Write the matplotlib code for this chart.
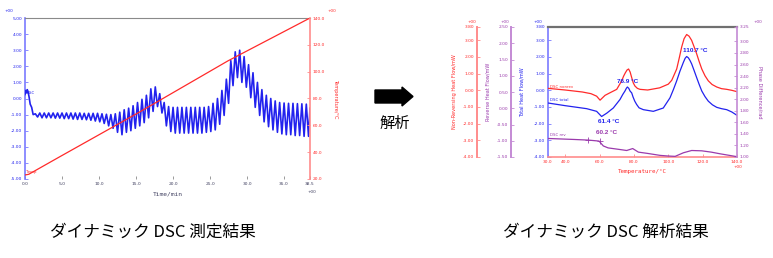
import matplotlib
matplotlib.use('Agg')
import matplotlib.pyplot as plt
import numpy as np
from matplotlib.patches import Polygon

# ---- left chart: modulated DSC raw signal ----
hf_start_t = [0.0, 0.1, 0.2, 0.3, 0.4, 0.55, 0.7, 0.9, 1.1]
hf_start = [0.25, 0.5, 0.35, 0.55, 0.45, 0.1, -0.35, -0.55, -1.0]
osc_start = 1.4      # min, first peak of the modulation
osc_period = 0.6     # min
hf_peak = [-0.95, -0.90, -0.90, -0.90, -0.90, -0.90, -0.90, -0.90, -0.90, -0.90,
           -0.90, -0.92, -0.92, -0.92, -0.92, -0.95, -0.98, -1.00, -0.95, -0.85,
           -0.70, -0.60, -0.45, -0.25, -0.05, 0.20, 0.60, 0.72, 0.30, -0.25,
           -0.50, -0.55, -0.55, -0.55, -0.55, -0.55, -0.55, -0.55, -0.55, -0.50,
           -0.30, 0.00, 0.50, 1.20, 2.35, 2.90, 3.00, 2.60, 2.10, 1.60,
           1.00, 0.55, 0.20, 0.00, -0.15, -0.25, -0.28, -0.30, -0.30, -0.32,
           -0.33, -0.35]
hf_trough = [-1.15, -1.20, -1.20, -1.20, -1.22, -1.22, -1.25, -1.25, -1.28, -1.30,
             -1.30, -1.32, -1.35, -1.40, -1.45, -1.55, -1.70, -1.85, -2.10, -2.25,
             -2.10, -2.00, -1.85, -1.70, -1.50, -1.20, -0.80, -0.50, -0.90, -1.70,
             -2.05, -2.15, -2.15, -2.15, -2.15, -2.15, -2.15, -2.15, -2.10, -2.05,
             -1.95, -1.60, -1.05, -0.30, 0.80, 1.30, 1.00, 0.70, 0.05, -0.55,
             -1.05, -1.45, -1.75, -1.95, -2.10, -2.20, -2.25, -2.25, -2.30, -2.30,
             -2.35, -2.35]
hf_end_t = 38.5
hf_end = -0.6
temp_t = [0, 0.5, 4.7, 15.5, 27.4, 38.5]
temp_v = [23, 23.5, 36.6, 70, 108, 140]

# ---- right chart: analysed curves ----
nonrev_x = [30, 40, 50, 55, 58.3, 60.3, 63.2, 66, 70, 72.9, 74, 75, 76, 76.9, 77.8, 78.7, 79.6, 80.6, 82,
            83.5, 88, 95, 100, 102, 103.5, 104.9, 106.3, 107.8, 109.2, 110.7, 112.1, 113.6, 115, 116.5,
            118, 119.5, 121.4, 123.3, 125.5, 128.2, 131, 134, 137, 140]
nonrev_y = [0.12, 0.02, -0.1, -0.2, -0.35, -0.59, -0.3, -0.15, 0.06, 0.57, 0.85, 1.05, 1.22, 1.28, 1.1, 0.77, 0.45, 0.26, 0.12,
            0.06, 0.02, 0.15, 0.37, 0.6, 0.95, 1.28, 1.9, 2.6, 3.1, 3.35, 3.25, 3.0, 2.62, 2.2,
            1.72, 1.28, 0.87, 0.57, 0.35, 0.2, 0.1, 0.06, 0.0, -0.08]
total_x = [30, 40, 52.5, 58.3, 61.2, 64.2, 68, 71.9, 73.5, 74.8, 75.6, 76.2, 77, 77.8, 78.7, 79.5, 80.5,
           81.6, 83, 85.5, 91.3, 97.1, 101, 103, 104.9, 106.8, 108.8, 109.8, 110.7, 111.7, 112.6, 113.6,
           115, 116.5, 118, 119.5, 121.4, 123.3, 125.7, 128.2, 131, 134, 137, 140]
total_y = [-0.76, -0.92, -1.1, -1.26, -1.57, -1.37, -1.06, -0.55, -0.25, -0.04, 0.12, 0.2, 0.12, -0.05, -0.15, -0.4, -0.65,
           -0.85, -1.05, -1.16, -1.26, -1.06, -0.45, 0.05, 0.57, 1.15, 1.68, 1.92, 2.03, 1.95, 1.8, 1.59,
           1.2, 0.77, 0.35, -0.04, -0.38, -0.65, -0.87, -1.02, -1.1, -1.16, -1.3, -1.5]
rev_x = [30, 45, 53.5, 59.7, 62.2, 65, 71.9, 75.8, 79.3, 82.6, 88, 95.2, 100, 104, 108.8,
         113.6, 119.5, 125, 130, 140]
rev_y = [-0.93, -0.96, -0.98, -1.01, -1.16, -1.22, -1.27, -1.30, -1.24, -1.35, -1.39, -1.45, -1.47, -1.48, -1.37,
         -1.30, -1.31, -1.35, -1.40, -1.49]
rev_marks_x = [53.5, 60.2]
rev_marks_y = [-0.98, -1.01]

BLUE = '#2222ee'
LBLUE = '#7a7aff'
RED = '#ff2a2a'
LRED = '#ff8c8c'
PURP = '#9a3aac'
LPURP = '#c48ad4'
GRAY = '#8a8a8a'
TICK = dict(family='DejaVu Sans', size=3.2)

W, H = 773, 258
fig = plt.figure(figsize=(W / 100, H / 100), dpi=100)


def box(x0, y0, x1, y1):
    return [x0 / W, 1 - y1 / H, (x1 - x0) / W, (y1 - y0) / H]


def style_ticks(ax, axis, color, labelcolor):
    ax.tick_params(axis=axis, direction='in', length=2, width=0.6, color=color,
                   labelcolor=labelcolor, labelsize=3.2, pad=2)


# ================= left chart =================
ax1 = fig.add_axes(box(25, 18, 310, 179))
t_osc, v_osc = list(hf_start_t), list(hf_start)
for i, (p, q) in enumerate(zip(hf_peak, hf_trough)):
    t_osc += [osc_start + i * osc_period, osc_start + (i + 0.5) * osc_period]
    v_osc += [p, q]
t_osc.append(hf_end_t)
v_osc.append(hf_end)
ax1.plot(t_osc, v_osc, color=BLUE, lw=1.2, zorder=3)
ax1.set_xlim(0, 38.5)
ax1.set_ylim(-5, 5)
ax1.set_yticks(np.arange(-5, 6, 1))
ax1.set_yticklabels(['%.2f' % v for v in np.arange(-5, 6, 1)], **TICK)
xt = [0, 5, 10, 15, 20, 25, 30, 35, 38.5]
ax1.set_xticks(xt)
ax1.set_xticklabels(['%.1f' % v for v in xt], **TICK)
style_ticks(ax1, 'y', LBLUE, BLUE)
style_ticks(ax1, 'x', GRAY, '#404060')
ax1.spines['left'].set_color(LBLUE)
ax1.spines['left'].set_linewidth(1.2)
ax1.spines['top'].set_color(GRAY)
ax1.spines['bottom'].set_visible(False)
ax1.spines['right'].set_visible(False)
ax1.set_xlabel('Time/min', family='DejaVu Sans Mono', size=4.5, color='#404060', labelpad=4)
ax1.text(0.25, 0.35, 'DSC', color=BLUE, fontsize=2.8, ha='left', va='center')

ax1r = ax1.twinx()
ax1r.plot(temp_t, temp_v, color=RED, lw=0.9)
ax1r.set_ylim(20, 140)
ax1r.set_yticks(np.arange(20, 141, 20))
ax1r.set_yticklabels(['%.1f' % v for v in np.arange(20, 141, 20)], **TICK)
style_ticks(ax1r, 'y', LRED, RED)
for s in ['left', 'top', 'bottom']:
    ax1r.spines[s].set_visible(False)
ax1r.spines['right'].set_color(LRED)
ax1r.spines['right'].set_linewidth(1.2)
ax1r.set_ylabel('Temperature/\u00b0C', color=RED, size=3.6, rotation=270, labelpad=9)
ax1r.text(0.1, 23.6, 'Temp', color=RED, fontsize=2.8, ha='left', va='bottom')

# ================= right chart =================
ax2 = fig.add_axes(box(548, 27, 737, 157))
ax2.plot(total_x, total_y, color=BLUE, lw=0.9, zorder=3)
ax2.plot(nonrev_x, nonrev_y, color=RED, lw=0.9, zorder=3)
ax2.set_xlim(30, 140)
ax2.set_ylim(-4, 3.8)
yt = [-4, -3, -2, -1, 0, 1, 2, 3, 3.8]
ax2.set_yticks(yt)
ax2.set_yticklabels(['%.2f' % v for v in yt], **TICK)
xt2 = [30, 40, 60, 80, 100, 120, 140]
ax2.set_xticks(xt2)
ax2.set_xticklabels(['%.1f' % v for v in xt2], **TICK)
style_ticks(ax2, 'y', LBLUE, BLUE)
style_ticks(ax2, 'x', LRED, RED)
ax2.spines['left'].set_color(LBLUE)
ax2.spines['left'].set_linewidth(1.2)
ax2.spines['bottom'].set_color(LRED)
ax2.spines['bottom'].set_linewidth(1.2)
ax2.spines['top'].set_color('#707070')
ax2.spines['top'].set_linewidth(1.6)
ax2.spines['right'].set_visible(False)
ax2.set_xlabel('Temperature/\u00b0C', family='DejaVu Sans Mono', size=4.2, color=RED, labelpad=4)
ax2.set_ylabel('Total Heat Flow/mW', color=BLUE, size=3.6)
ax2.yaxis.set_label_coords(-0.125, 0.5)

ax2.text(31, 0.08, 'DSC nonrev', color=RED, fontsize=2.8, ha='left', va='bottom')
ax2.text(31, -0.72, 'DSC total', color=BLUE, fontsize=2.8, ha='left', va='bottom')
ax2.text(31, -2.8, 'DSC rev', color=PURP, fontsize=2.8, ha='left', va='bottom')
ann = dict(family='Liberation Sans', weight='bold', size=4.6, ha='center', va='center')
ax2.text(115.6, 2.4, '110.7 \u00b0C', color=BLUE, **ann)
ax2.text(76.6, 0.5, '76.9 \u00b0C', color=BLUE, **ann)
ax2.text(65.5, -1.88, '61.4 \u00b0C', color=BLUE, **ann)
ax2.text(63.8, -2.54, '60.2 \u00b0C', color=PURP, **ann)

# reversing heat flow axis (purple, offset left)
ax_rev = ax2.twinx()
ax_rev.plot(rev_x, rev_y, color=PURP, lw=0.9)
ax_rev.plot(rev_marks_x, rev_marks_y, '+', color=PURP, ms=4, mew=0.6)
ax_rev.set_ylim(-1.5, 2.5)
ax_rev.yaxis.set_ticks_position('left')
ax_rev.yaxis.set_label_position('left')
yt = np.arange(-1.5, 2.51, 0.5)
ax_rev.set_yticks(yt)
ax_rev.set_yticklabels(['%.2f' % v for v in yt], **TICK)
style_ticks(ax_rev, 'y', LPURP, PURP)
for s in ['right', 'top', 'bottom']:
    ax_rev.spines[s].set_visible(False)
ax_rev.spines['left'].set_visible(True)
ax_rev.spines['left'].set_position(('outward', 37 * 0.72))
ax_rev.spines['left'].set_color(LPURP)
ax_rev.spines['left'].set_linewidth(1.4)
ax_rev.set_ylabel('Reverse Heat Flow/mW', color=PURP, size=3.6)
ax_rev.yaxis.set_label_coords(-0.305, 0.5)

# non-reversing heat flow axis (red, offset further left)
ax_nr = ax2.twinx()
ax_nr.set_ylim(-4, 3.8)
ax_nr.yaxis.set_ticks_position('left')
ax_nr.yaxis.set_label_position('left')
yt = [-4, -3, -2, -1, 0, 1, 2, 3, 3.8]
ax_nr.set_yticks(yt)
ax_nr.set_yticklabels(['%.2f' % v for v in yt], **TICK)
style_ticks(ax_nr, 'y', LRED, RED)
for s in ['right', 'top', 'bottom']:
    ax_nr.spines[s].set_visible(False)
ax_nr.spines['left'].set_visible(True)
ax_nr.spines['left'].set_position(('outward', 71 * 0.72))
ax_nr.spines['left'].set_color(LRED)
ax_nr.spines['left'].set_linewidth(1.4)
ax_nr.set_ylabel('Non-Reversing Heat Flow/mW', color=RED, size=3.6)
ax_nr.yaxis.set_label_coords(-0.48, 0.5)

# phase difference axis (purple, right)
ax_ph = ax2.twinx()
ax_ph.set_ylim(1.0, 3.25)
yt = [1.0, 1.2, 1.4, 1.6, 1.8, 2.0, 2.2, 2.4, 2.6, 2.8, 3.0, 3.25]
ax_ph.set_yticks(yt)
ax_ph.set_yticklabels(['%.2f' % v for v in yt], **TICK)
style_ticks(ax_ph, 'y', LPURP, PURP)
for s in ['left', 'top', 'bottom']:
    ax_ph.spines[s].set_visible(False)
ax_ph.spines['right'].set_color(LPURP)
ax_ph.spines['right'].set_linewidth(1.2)
ax_ph.set_ylabel('Phase Difference/rad', color=PURP, size=3.6, rotation=270, labelpad=9)

# ================= overlay: exponent marks, arrow, captions =================
ov = fig.add_axes([0, 0, 1, 1], zorder=-1)
ov.set_xlim(0, W)
ov.set_ylim(H, 0)
ov.axis('off')
small = dict(fontsize=3, ha='center', va='center')
ov.text(9, 11, '+00', color=BLUE, **small)
ov.text(332, 11, '+00', color=RED, **small)
ov.text(312, 192, '+00', color='#404060', **small)
ov.text(472, 22, '+00', color=RED, **small)
ov.text(505, 22, '+00', color=PURP, **small)
ov.text(538, 22, '+00', color=BLUE, **small)
ov.text(758, 22, '+00', color=PURP, **small)
ov.text(738, 167, '+00', color=RED, **small)

ov.add_patch(Polygon([(375, 90), (402, 90), (402, 87), (413, 96.5), (402, 106),
                      (402, 103), (375, 103)], closed=True, color='black'))
jp = ['Noto Sans CJK JP', 'DejaVu Sans']
ov.text(395, 123, '解析', family=jp, fontsize=11, ha='center', va='center')
ov.text(153, 232, 'ダイナミック DSC 測定結果', family=jp, fontsize=12, ha='center', va='center')
ov.text(606, 232, 'ダイナミック DSC 解析結果', family=jp, fontsize=12, ha='center', va='center')

fig.savefig('out.png', dpi=100)
